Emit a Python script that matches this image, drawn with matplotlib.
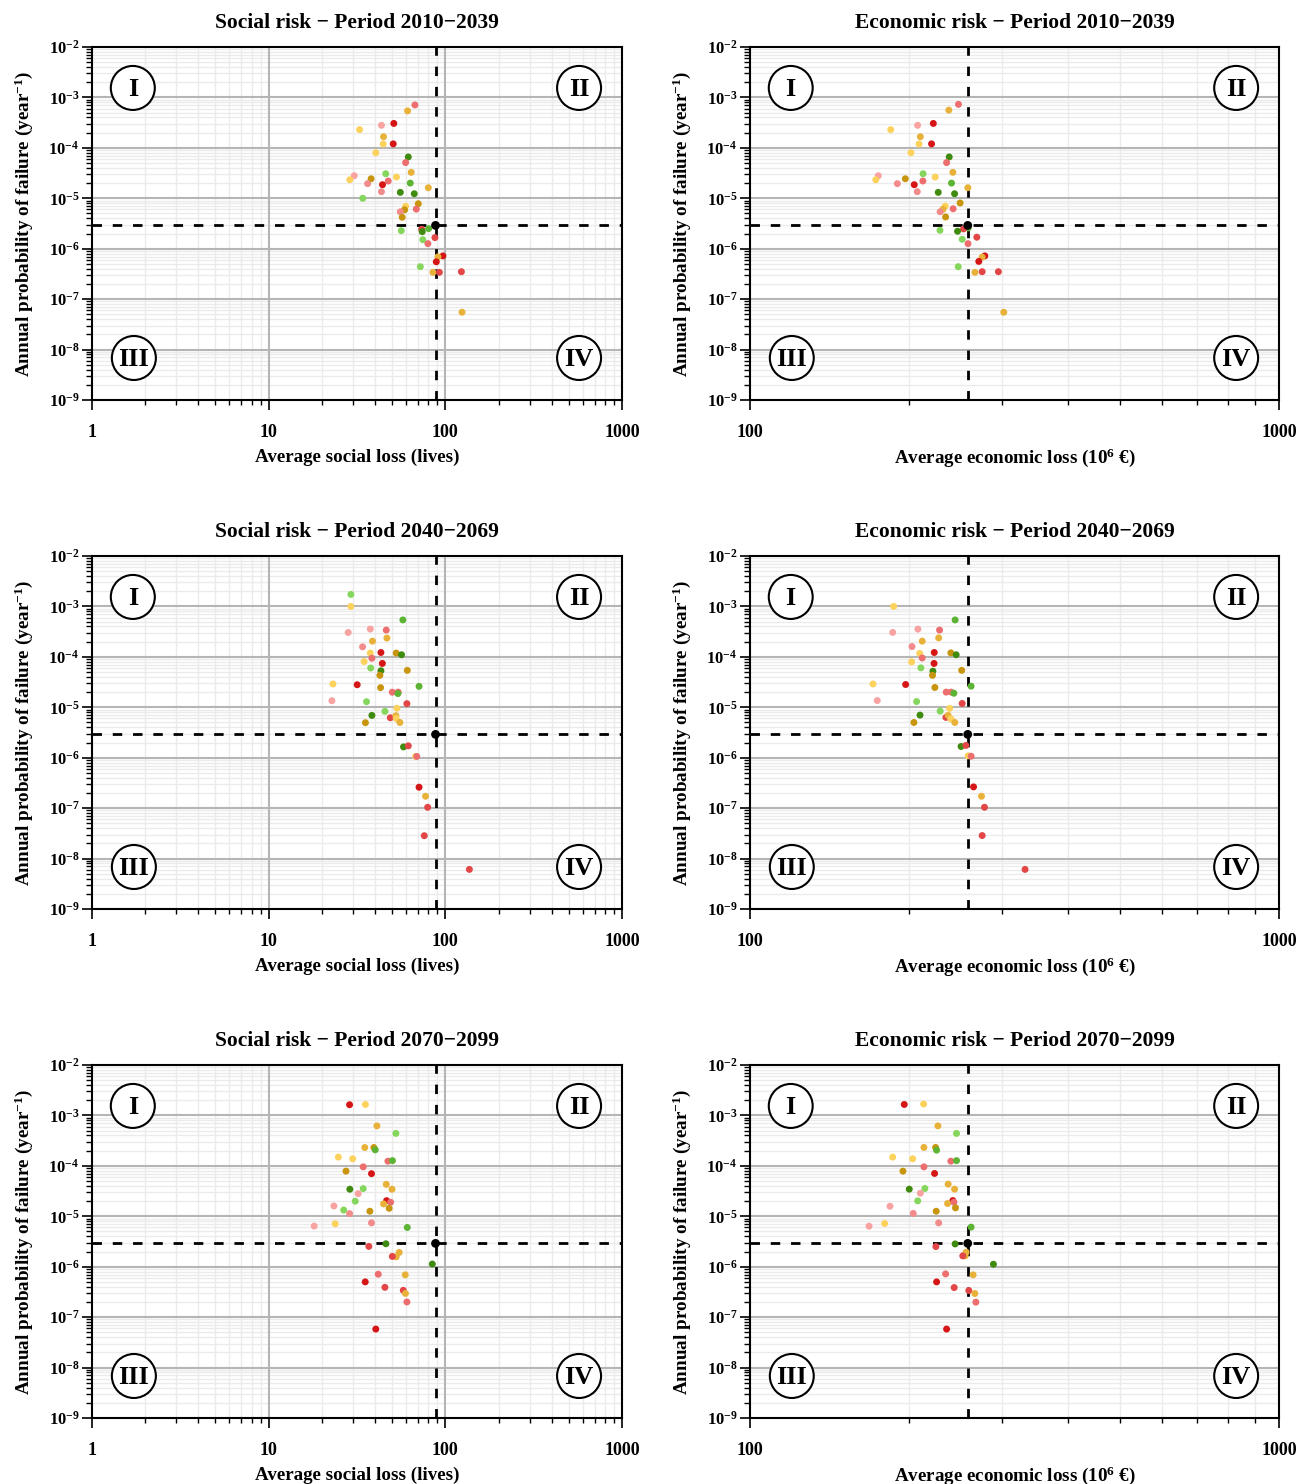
import numpy as np
import matplotlib
matplotlib.use('Agg')
import matplotlib.pyplot as plt
from matplotlib.patches import Ellipse
from matplotlib.ticker import FixedLocator, NullFormatter, FuncFormatter, LogLocator

plt.rcParams['font.family'] = 'Liberation Serif'
plt.rcParams['font.weight'] = 'bold'
plt.rcParams['mathtext.fontset'] = 'custom'
plt.rcParams['mathtext.rm'] = 'Liberation Serif:bold'
plt.rcParams['mathtext.bf'] = 'Liberation Serif:bold'
plt.rcParams['mathtext.it'] = 'Liberation Serif:bold'

palette = {'R': '#d61616', 'r': '#e24646', 'm': '#ec6e6e', 'p': '#f8a2a2', 'q': '#f28c8c',
           'y': '#fdd25c', 'g': '#e8b23a', 'd': '#c8950f',
           'G': '#3f8b10', 'n': '#5db334', 'l': '#84d75c'}

soc_thr = 88
eco_thr = 258
p_thr = 2.9e-6

# ---- period 2010-2039 ----
soc1_x = [67.3, 61.1, 43.5, 51.1, 32.7, 44.7, 44.5, 50.7, 40.4, 61.7, 59.6, 46.0, 64.1, 30.5, 28.8, 38.0,
          52.9, 47.5, 36.3, 44.1, 63.3, 43.5, 55.6, 66.7, 80.1, 34.1, 70.3, 59.6, 58.8, 55.6, 68.5, 57.0,
          80.4, 73.4, 74.0, 56.3, 87.3, 74.6, 79.7, 96.9, 90.8, 88.9, 72.2, 85.1, 92.5, 123.3, 124.3]
soc1_p = [7.1e-4, 5.4e-4, 2.8e-4, 3.05e-4, 2.3e-4, 1.66e-4, 1.19e-4, 1.2e-4, 8.0e-5, 6.6e-5, 5.1e-5,
          3.07e-5, 3.27e-5, 2.8e-5, 2.33e-5, 2.44e-5, 2.64e-5, 2.2e-5, 1.95e-5, 1.86e-5, 2.0e-5, 1.35e-5,
          1.31e-5, 1.23e-5, 1.62e-5, 1.0e-5, 7.8e-6, 6.95e-6, 5.9e-6, 5.4e-6, 6.1e-6, 4.2e-6, 2.5e-6,
          2.43e-6, 2.18e-6, 2.28e-6, 1.66e-6, 1.51e-6, 1.26e-6, 7.2e-7, 6.9e-7, 5.5e-7, 4.4e-7, 3.4e-7,
          3.4e-7, 3.5e-7, 5.5e-8]
soc1_c = "m g p R y g y R y G m l g p y d y m q R n q G G g l d y d q m d n r G l r l m R g R l g r r g"

eco1_x = [247.8, 237.6, 207.4, 222.1, 184.5, 209.9, 208.7, 220.4, 201.5, 238.0, 235.3, 212.4, 241.8, 174.8,
          172.9, 196.6, 223.9, 212.2, 189.9, 204.4, 240.4, 207.1, 226.9, 243.6, 258.1, 249.6, 233.9, 231.6,
          242.1, 228.8, 234.3, 258.5, 253.3, 246.8, 228.6, 268.4, 251.8, 258.3, 277.9, 274.7, 270.7, 247.5,
          266.2, 274.7, 294.8, 301.8]
eco1_p = [7.3e-4, 5.6e-4, 2.8e-4, 3.05e-4, 2.3e-4, 1.66e-4, 1.19e-4, 1.2e-4, 8.0e-5, 6.6e-5, 5.1e-5,
          3.07e-5, 3.27e-5, 2.8e-5, 2.33e-5, 2.44e-5, 2.64e-5, 2.2e-5, 1.95e-5, 1.86e-5, 2.0e-5, 1.35e-5,
          1.31e-5, 1.23e-5, 1.62e-5, 8.07e-6, 7.0e-6, 6.05e-6, 6.2e-6, 5.4e-6, 4.26e-6, 2.58e-6, 2.47e-6,
          2.22e-6, 2.32e-6, 1.69e-6, 1.54e-6, 1.26e-6, 7.2e-7, 6.8e-7, 5.6e-7, 4.4e-7, 3.4e-7, 3.5e-7,
          3.5e-7, 5.5e-8]
eco1_c = "m g p R y g y R y G m l g p y d y m q R n q G G g d y g m q d n r G l r l m R g R l g r r g"

# ---- period 2040-2069 ----
soc2_x = [29.2, 29.2, 57.5, 28.2, 37.6, 46.3, 38.7, 46.7, 34.0, 37.6, 38.4, 43.2, 52.7, 56.5, 34.7, 44.0,
          37.8, 43.2, 42.6, 60.9, 23.1, 31.7, 43.0, 71.0, 50.1, 54.1, 53.9, 22.8, 35.8, 60.6, 53.2, 45.5,
          38.4, 48.8, 52.5, 52.7, 55.3, 35.3, 58.0, 61.7, 67.9, 68.9, 71.0, 77.3, 79.4, 76.0, 136.8]
soc2_p = [1.73e-3, 1.0e-3, 5.4e-4, 3.04e-4, 3.56e-4, 3.4e-4, 2.05e-4, 2.36e-4, 1.58e-4, 1.19e-4, 9.4e-5,
          1.22e-4, 1.19e-4, 1.1e-4, 8.07e-5, 7.4e-5, 6.0e-5, 5.3e-5, 4.3e-5, 5.4e-5, 2.9e-5, 2.8e-5,
          2.45e-5, 2.6e-5, 1.99e-5, 2.0e-5, 1.87e-5, 1.35e-5, 1.29e-5, 1.18e-5, 9.55e-6, 8.3e-6, 6.9e-6,
          6.2e-6, 6.8e-6, 6.0e-6, 5.0e-6, 4.95e-6, 1.64e-6, 1.72e-6, 1.06e-6, 1.06e-6, 2.6e-7, 1.72e-7,
          1.04e-7, 2.84e-8, 6.1e-9]
soc2_c = "l y n p p m g g q y m R d G y R l G d d y R d n m m n p l r y l G r g y g d G r y m R g r r r"

eco2_x = [186.9, 244.2, 186.1, 207.7, 228.2, 211.6, 227.3, 202.4, 209.3, 211.6, 223.0, 239.7, 245.3, 202.1,
          222.8, 210.4, 221.7, 221.3, 251.3, 170.8, 196.9, 223.6, 261.8, 234.9, 240.0, 242.9, 174.0, 206.5,
          251.8, 238.4, 228.8, 209.6, 234.6, 236.9, 239.7, 243.9, 204.1, 250.6, 255.9, 258.5, 261.8, 264.6,
          273.9, 277.5, 274.7, 331.1]
eco2_p = [1.0e-3, 5.4e-4, 3.05e-4, 3.55e-4, 3.4e-4, 2.05e-4, 2.38e-4, 1.6e-4, 1.17e-4, 9.5e-5, 1.22e-4,
          1.2e-4, 1.1e-4, 7.97e-5, 7.4e-5, 6.05e-5, 5.2e-5, 4.3e-5, 5.4e-5, 2.9e-5, 2.83e-5, 2.47e-5,
          2.62e-5, 2.0e-5, 2.0e-5, 1.9e-5, 1.36e-5, 1.3e-5, 1.19e-5, 9.5e-6, 8.4e-6, 7.0e-6, 6.3e-6, 6.9e-6,
          5.9e-6, 5.0e-6, 5.0e-6, 1.67e-6, 1.75e-6, 1.09e-6, 1.07e-6, 2.64e-7, 1.72e-7, 1.04e-7, 2.86e-8,
          6.1e-9]
eco2_c = "y n p p m g g q y m R d G y R l G d d y R d n m m n p l r y l G r g y g d G r y m R g r r r"

# ---- period 2070-2099 ----
soc3_x = [28.7, 35.3, 41.0, 52.5, 35.0, 39.4, 40.1, 24.8, 29.9, 47.3, 50.2, 34.3, 27.4, 38.2, 46.3, 49.9,
          28.8, 34.3, 32.1, 30.9, 46.5, 49.0, 44.7, 48.1, 23.4, 26.6, 28.7, 37.4, 18.1, 23.8, 38.2, 60.9,
          46.1, 36.9, 54.8, 52.7, 50.1, 84.4, 41.7, 59.3, 35.2, 45.5, 57.8, 59.5, 60.6, 40.4]
soc3_p = [1.63e-3, 1.65e-3, 6.2e-4, 4.4e-4, 2.31e-4, 2.31e-4, 2.08e-4, 1.49e-4, 1.38e-4, 1.24e-4, 1.27e-4,
          9.55e-5, 7.85e-5, 7.0e-5, 4.3e-5, 3.44e-5, 3.44e-5, 3.54e-5, 2.81e-5, 1.99e-5, 2.04e-5, 1.9e-5,
          1.76e-5, 1.44e-5, 1.6e-5, 1.33e-5, 1.13e-5, 1.26e-5, 6.4e-6, 7.1e-6, 7.4e-6, 6.0e-6, 2.85e-6,
          2.53e-6, 1.92e-6, 1.57e-6, 1.6e-6, 1.13e-6, 7.1e-7, 6.9e-7, 5.0e-7, 3.9e-7, 3.4e-7, 2.95e-7,
          2.0e-7, 5.8e-8]
soc3_c = "R y g l g d n y y m n m d R g g G l p l R m g d p l q d p y q n G r g g r G m g R r r g m R"

eco3_x = [195.7, 212.9, 226.6, 245.7, 213.2, 224.3, 225.3, 186.1, 203.0, 239.7, 245.7, 213.2, 194.6, 223.3,
          236.9, 243.6, 200.0, 214.1, 209.9, 207.5, 241.8, 242.9, 236.3, 244.6, 183.9, 203.5, 224.9, 167.9,
          179.7, 227.3, 261.8, 244.2, 224.6, 256.2, 255.1, 252.5, 288.5, 234.3, 264.1, 225.3, 243.2, 259.2,
          266.1, 267.3, 235.3]
eco3_p = [1.65e-3, 1.68e-3, 6.2e-4, 4.4e-4, 2.32e-4, 2.32e-4, 2.05e-4, 1.49e-4, 1.38e-4, 1.24e-4, 1.27e-4,
          9.55e-5, 7.85e-5, 7.07e-5, 4.34e-5, 3.45e-5, 3.45e-5, 3.56e-5, 2.87e-5, 2.02e-5, 2.05e-5, 1.9e-5,
          1.79e-5, 1.47e-5, 1.58e-5, 1.14e-5, 1.26e-5, 6.37e-6, 7.2e-6, 7.4e-6, 6.1e-6, 2.83e-6, 2.51e-6,
          1.94e-6, 1.64e-6, 1.64e-6, 1.12e-6, 7.2e-7, 6.9e-7, 5.0e-7, 3.86e-7, 3.37e-7, 2.94e-7, 1.98e-7,
          5.8e-8]
eco3_c = "R y g l g d n y y m n m d R g g G l p l R m g d p q d p y q n G r g g r G m g R r r g m R"

periods = ['2010\u22122039', '2040\u22122069', '2070\u22122099']
panels = [(soc1_x, soc1_p, soc1_c, eco1_x, eco1_p, eco1_c),
          (soc2_x, soc2_p, soc2_c, eco2_x, eco2_p, eco2_c),
          (soc3_x, soc3_p, soc3_c, eco3_x, eco3_p, eco3_c)]

W, H = 1298, 1484
fig = plt.figure(figsize=(W / 100, H / 100), dpi=100)

row_top = [47, 556, 1065]
col_left = [(92, 530), (750, 529)]
ax_h = 353


def quadrant_marks(ax):
    for (cx, cy, txt) in [(0.077, 0.884, 'I'), (0.919, 0.884, 'II'),
                          (0.079, 0.119, 'III'), (0.919, 0.119, 'IV')]:
        e = Ellipse((cx, cy), 44 / 530, 44 / 353, transform=ax.transAxes,
                    facecolor='white', edgecolor='black', lw=1.5, zorder=5)
        ax.add_patch(e)
        ax.text(cx, cy - 0.004, txt, transform=ax.transAxes, ha='center', va='center',
                fontsize=19, fontweight='bold', zorder=6)


def draw_grid(ax, social):
    decades = 10.0 ** np.arange(-9, -2)
    for d in decades:
        for k in range(2, 10):
            ax.axhline(d * k, color='#ebebeb', lw=1.0, zorder=0.2)
    if social:
        for d in [1, 10, 100]:
            for k in range(2, 10):
                ax.axvline(d * k, color='#ebebeb', lw=1.0, zorder=0.2)
        for v in [10, 100]:
            ax.axvline(v, color='#b5b5b5', lw=1.5, zorder=0.3)
    else:
        for v in range(200, 1000, 100):
            ax.axvline(v, color='#ebebeb', lw=1.0, zorder=0.2)
    for d in decades[1:]:
        ax.axhline(d, color='#b5b5b5', lw=1.5, zorder=0.3)


def style_axes(ax, social):
    ax.set_yscale('log')
    ax.set_xscale('log')
    ax.set_ylim(1e-9, 1e-2)
    ax.yaxis.set_major_locator(LogLocator(base=10, numticks=20))
    ax.yaxis.set_minor_locator(LogLocator(base=10, subs=np.arange(2, 10), numticks=20))
    ax.yaxis.set_major_formatter(FuncFormatter(lambda v, _: r'$10^{%d}$' % round(np.log10(v))))
    ax.yaxis.set_minor_formatter(NullFormatter())
    if social:
        ax.set_xlim(1, 1000)
        ax.xaxis.set_major_locator(FixedLocator([1, 10, 100, 1000]))
        ax.xaxis.set_minor_locator(LogLocator(base=10, subs=np.arange(2, 10), numticks=20))
    else:
        ax.set_xlim(100, 1000)
        ax.xaxis.set_major_locator(FixedLocator([100, 1000]))
        ax.xaxis.set_minor_locator(FixedLocator(np.arange(200, 1000, 100)))
    ax.xaxis.set_major_formatter(FuncFormatter(lambda v, _: '%d' % v))
    ax.xaxis.set_minor_formatter(NullFormatter())
    ax.set_axisbelow(True)
    ax.tick_params(axis='y', which='major', direction='out', length=7, width=1.2, labelsize=12, pad=2)
    ax.tick_params(axis='y', which='minor', direction='out', length=4, width=1.0)
    ax.tick_params(axis='x', which='major', direction='out', length=7.5, width=1.2, labelsize=13, pad=10)
    ax.tick_params(axis='x', which='minor', direction='out', length=3.6, width=1.0)
    for sp in ax.spines.values():
        sp.set_linewidth(1.5)
    draw_grid(ax, social)


for i, (sx, sp_, sc, ex, ep, ec) in enumerate(panels):
    for j in range(2):
        x0, w = col_left[j]
        y0 = row_top[i]
        ax = fig.add_axes([x0 / W, 1 - (y0 + ax_h) / H, w / W, ax_h / H])
        social = (j == 0)
        style_axes(ax, social)
        xs, ps, cs = (sx, sp_, sc) if social else (ex, ep, ec)
        thr = soc_thr if social else eco_thr
        cols = [palette[k] for k in cs.split()]
        ax.axhline(p_thr, color='black', lw=2, ls=(0, (3.4, 3.9)), zorder=3)
        ax.axvline(thr, color='black', lw=2, ls=(0, (3.4, 3.9)), zorder=3)
        ax.scatter(xs, ps, c=cols, s=25, edgecolors='none', zorder=4)
        ax.scatter([thr], [p_thr], c='black', s=40, edgecolors='none', zorder=4)
        quadrant_marks(ax)
        kind = 'Social' if social else 'Economic'
        ax.set_title('%s risk \u2212 Period %s' % (kind, periods[i]), fontsize=15.5,
                     fontweight='bold', pad=14)
        if social:
            ax.set_xlabel('Average social loss (lives)', fontsize=13.7, fontweight='bold', labelpad=5)
        else:
            ax.set_xlabel('Average economic loss (10$^{6}$ \u20ac)', fontsize=13.7,
                          fontweight='bold', labelpad=4)
        ax.set_ylabel(r'Annual probability of failure (year$^{-1}$)', fontsize=13.8,
                      fontweight='bold', labelpad=10)

fig.savefig('out.png', dpi=100)
